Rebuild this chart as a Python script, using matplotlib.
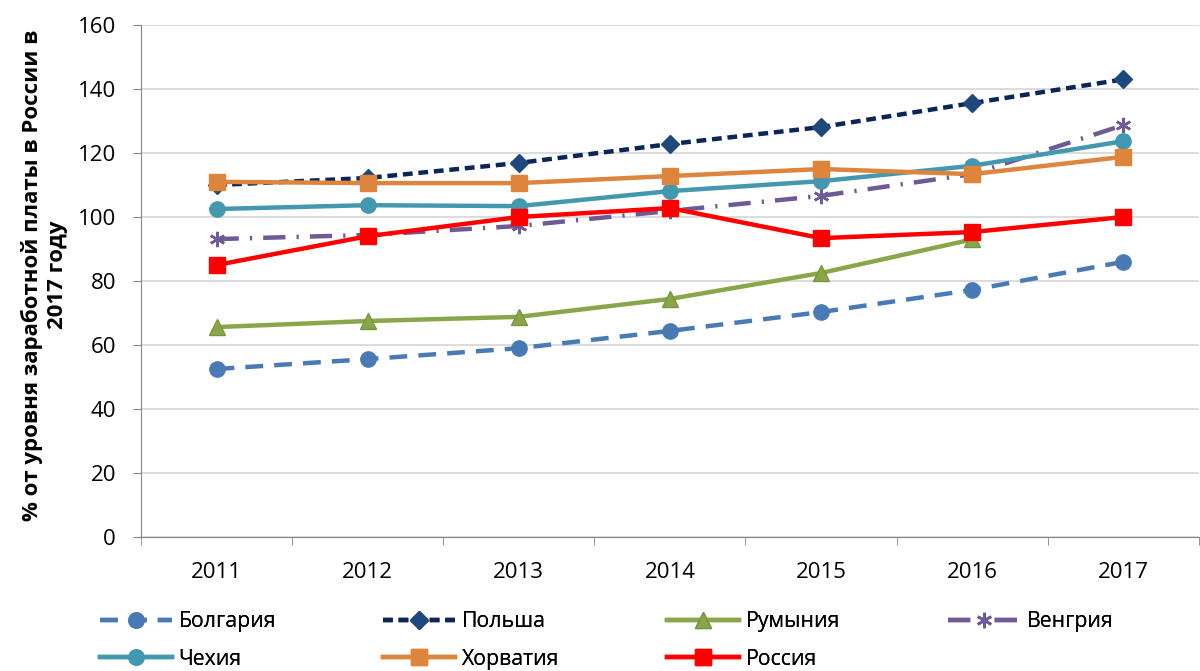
import matplotlib
matplotlib.use("Agg")
import matplotlib.pyplot as plt
from matplotlib.ticker import FixedLocator

plt.rcParams['font.family'] = ['Open Sans', 'DejaVu Sans']

years = ['2011', '2012', '2013', '2014', '2015', '2016', '2017']
bulgaria = [52.5, 55.6, 59.0, 64.4, 70.3, 77.2, 86.0]
poland = [110.0, 112.2, 116.9, 122.8, 128.1, 135.6, 143.0]
romania = [65.6, 67.5, 68.8, 74.4, 82.5, 93.0]
hungary = [93.1, 94.4, 97.2, 101.9, 106.6, 113.4, 128.7]
czechia = [102.5, 103.7, 103.4, 108.1, 111.2, 116.0, 123.7]
croatia = [111.0, 110.6, 110.6, 112.8, 115.0, 113.4, 118.8]
russia = [85.0, 94.0, 100.0, 102.8, 93.4, 95.3, 100.0]

fig = plt.figure(figsize=(12, 6.71), dpi=100)
ax = fig.add_axes([0.1175, 0.1997, 0.8815, 0.763])

x = list(range(len(years)))
lw = 3.2
ms = 11

h_bul, = ax.plot(x, bulgaria, color='#4a7ab5', lw=lw, dashes=(4, 2.5), marker='o', ms=ms,
                 markerfacecolor='#4a7ab5', markeredgecolor='#4a7ab5', label='Болгария', zorder=3)
h_pol, = ax.plot(x, poland, color='#0d2456', lw=lw, dashes=(2.2, 1.3), marker='D', ms=9,
                 markerfacecolor='#1f497d', markeredgecolor='#1f497d', label='Польша', zorder=3)
h_rom, = ax.plot(x[:len(romania)], romania, color='#8aa64b', lw=lw, marker='^', ms=ms,
                 markerfacecolor='#8aa64b', markeredgecolor='#7a9440', label='Румыния', zorder=3)
h_hun, = ax.plot(x, hungary, color='#6f5a96', lw=lw, dashes=(5, 2.5, 0.5, 2.5), marker=(6, 2, 0), ms=ms,
                 markeredgewidth=1.8, markeredgecolor='#6f5a96', label='Венгрия', zorder=3)
h_cze, = ax.plot(x, czechia, color='#4398b0', lw=lw, marker='o', ms=ms,
                 markerfacecolor='#4398b0', markeredgecolor='#4398b0', label='Чехия', zorder=3)
h_cro, = ax.plot(x, croatia, color='#dd843d', lw=lw, marker='s', ms=ms,
                 markerfacecolor='#dd843d', markeredgecolor='#dd843d', label='Хорватия', zorder=3)
h_rus, = ax.plot(x, russia, color='#ff0000', lw=lw, marker='s', ms=ms,
                 markerfacecolor='#ff0000', markeredgecolor='#ff0000', label='Россия', zorder=4)

ax.set_xlim(-0.5, len(years) - 0.5)
ax.set_ylim(0, 160)
ax.set_yticks(range(0, 161, 20))
ax.set_xticks(x)
ax.set_xticklabels(years)
ax.xaxis.set_minor_locator(FixedLocator([i - 0.5 for i in range(len(years) + 1)]))
ax.tick_params(axis='x', which='major', length=0, pad=18, labelsize=16)
ax.tick_params(axis='x', which='minor', length=6, color='#868686')
ax.tick_params(axis='y', length=6, color='#868686', labelsize=16, pad=12)

ax.grid(axis='y', color='#d9d9d9', lw=1.3)
ax.set_axisbelow(True)
for s in ['top', 'right']:
    ax.spines[s].set_visible(False)
ax.spines['left'].set_color('#868686')
ax.spines['bottom'].set_color('#868686')

fig.text(0.037, 0.59, '% от уровня заработной платы в России в\n2017 году',
         rotation=90, ha='center', va='center', fontsize=16, fontweight='bold',
         linespacing=1.3)

columns = [[h_bul, h_cze], [h_pol, h_cro], [h_rom, h_rus], [h_hun]]
col_x = [100, 383, 667, 948]
for hs, cx in zip(columns, col_x):
    lg = fig.legend(handles=hs, labels=[h.get_label() for h in hs], loc='upper left',
                    bbox_to_anchor=(cx / 1200, 1 - 611 / 671), frameon=False,
                    fontsize=15.3, handlelength=3.4, labelspacing=0.78,
                    handletextpad=0.3, borderpad=0, borderaxespad=0)
    fig.add_artist(lg)

fig.savefig('out.png', dpi=100)
